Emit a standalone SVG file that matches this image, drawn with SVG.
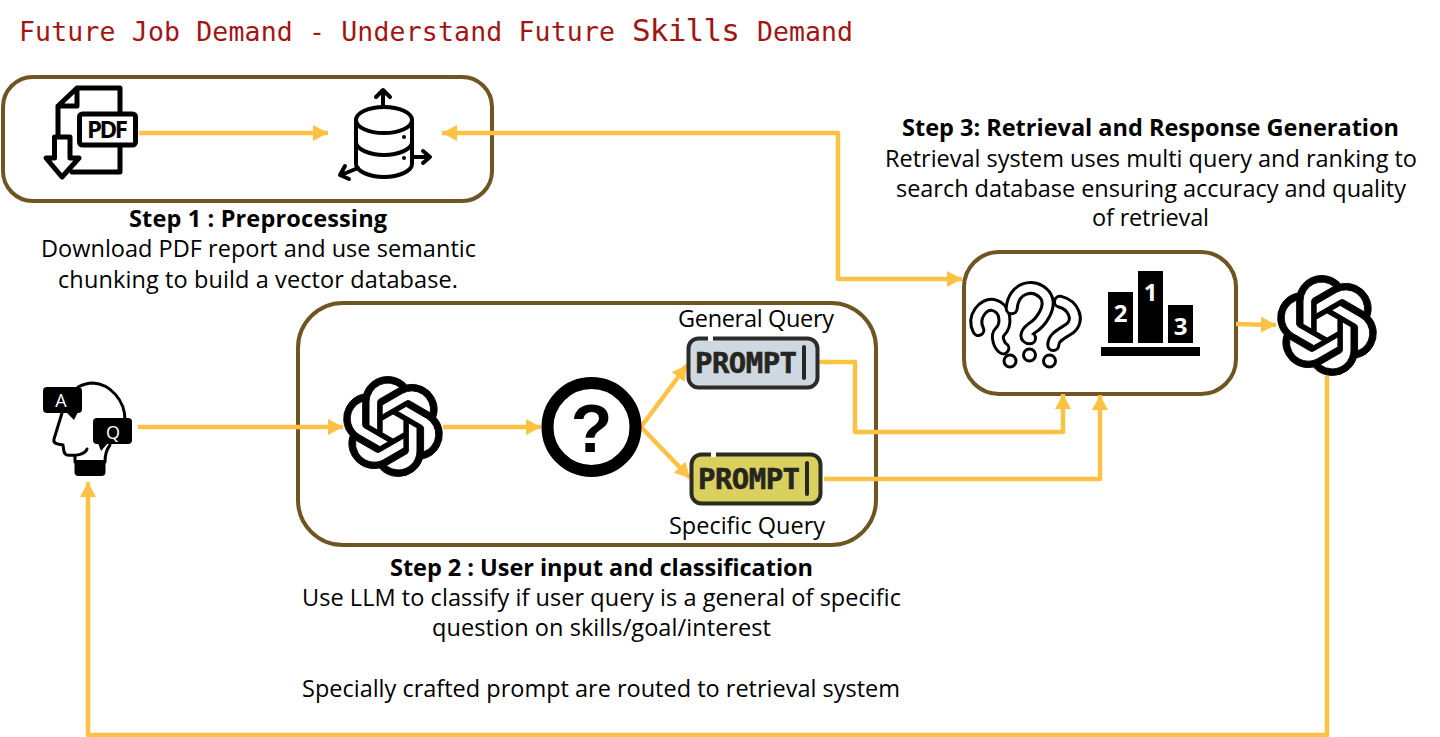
<svg xmlns="http://www.w3.org/2000/svg" width="1440" height="737" viewBox="0 0 1440 737">
<style>
.box{fill:#fff;stroke:#6e5522;stroke-width:4}
.c{fill:none;stroke:#fdc243;stroke-width:4.500;stroke-linejoin:round}
.t{font-family:"Open Sans","Noto Sans",sans-serif;font-size:23.500px;fill:#000;text-anchor:middle}
.b{font-weight:700}
.title{font-family:"DejaVu Sans Mono","Liberation Mono",monospace;font-size:26.500px;fill:#a31515}
.k{fill:none;stroke:#000;stroke-linecap:round;stroke-linejoin:round}
.pm{font-family:"DejaVu Sans Mono","Liberation Mono",monospace;font-weight:700;font-size:29px;fill:#262620;stroke:#262620;stroke-width:.6px}
.ic{font-family:"Open Sans","Noto Sans",sans-serif;font-weight:700;fill:#000;text-anchor:middle}
.w{font-family:"Open Sans","Noto Sans",sans-serif;fill:#fff;text-anchor:middle;font-size:18px}
</style>
<defs>
<marker id="a" markerUnits="userSpaceOnUse" markerWidth="16" markerHeight="16" refX="15" refY="8" orient="auto-start-reverse"><path d="M0 0L15 8L0 16Z" fill="#fdc243"/></marker>
<symbol id="logo" viewBox="0 0 24 24"><path fill="#000" stroke="#000" stroke-width=".22" fill-rule="evenodd" d="M22.2819 9.8211a5.9847 5.9847 0 0 0-.5157-4.9108 6.0462 6.0462 0 0 0-6.5098-2.9A6.0651 6.0651 0 0 0 4.9807 4.1818a5.9847 5.9847 0 0 0-3.9977 2.9 6.0462 6.0462 0 0 0 .7427 7.0966 5.98 5.98 0 0 0 .511 4.9107 6.051 6.051 0 0 0 6.5146 2.9001A5.9847 5.9847 0 0 0 13.2599 24a6.0557 6.0557 0 0 0 5.7718-4.2058 5.9894 5.9894 0 0 0 3.9977-2.9001 6.0557 6.0557 0 0 0-.7475-7.0729zm-9.022 12.6081a4.4755 4.4755 0 0 1-2.8764-1.0408l.1419-.0804 4.7783-2.7582a.7948.7948 0 0 0 .3927-.6813v-6.7369l2.02 1.1686a.071.071 0 0 1 .038.052v5.5826a4.504 4.504 0 0 1-4.4945 4.4944zm-9.6607-4.1254a4.4708 4.4708 0 0 1-.5346-3.0137l.142.0852 4.783 2.7582a.7712.7712 0 0 0 .7806 0l5.8428-3.3685v2.3324a.0804.0804 0 0 1-.0332.0615L9.74 19.9502a4.4992 4.4992 0 0 1-6.1408-1.6464zM2.3408 7.8956a4.485 4.485 0 0 1 2.3655-1.9728V11.6a.7664.7664 0 0 0 .3879.6765l5.8144 3.3543-2.0201 1.1685a.0757.0757 0 0 1-.071 0l-4.8303-2.7865A4.504 4.504 0 0 1 2.3408 7.872zm16.5963 3.8558L13.1038 8.364 15.1192 7.2a.0757.0757 0 0 1 .071 0l4.8303 2.7913a4.4944 4.4944 0 0 1-.6765 8.1042v-5.6772a.79.79 0 0 0-.407-.667zm2.0107-3.0231l-.142-.0852-4.7735-2.7818a.7759.7759 0 0 0-.7854 0L9.409 9.2297V6.8974a.0662.0662 0 0 1 .0284-.0615l4.8303-2.7866a4.4992 4.4992 0 0 1 6.6802 4.66zM8.3065 12.863l-2.02-1.1638a.0804.0804 0 0 1-.038-.0567V6.0742a4.4992 4.4992 0 0 1 7.3757-3.4537l-.142.0805L8.704 5.459a.7948.7948 0 0 0-.3927.6813zm1.0976-2.3654l2.602-1.4998 2.6069 1.4998v2.9994l-2.5974 1.4997-2.6067-1.4997Z"/></symbol>
</defs>
<rect width="1440" height="737" fill="#fff"/>
<text class="title" y="41"><tspan x="19" textLength="596">Future Job Demand - Understand Future</tspan><tspan x="632" font-size="31" textLength="108">Skills</tspan><tspan x="757" textLength="96">Demand</tspan></text>

<g id="step1-box"><rect class="box" x="3" y="77" width="489" height="124" rx="30"/></g>
<g id="step2-box"><rect class="box" x="298" y="303" width="578" height="242" rx="45"/></g>
<g id="step3-box"><rect class="box" x="964" y="252" width="272" height="142" rx="35"/></g>

<g id="connectors">
<path class="c" d="M139 133H328" marker-end="url(#a)"/>
<path class="c" d="M442 133H838V279H962" marker-start="url(#a)" marker-end="url(#a)"/>
<path class="c" d="M138 427H343" marker-end="url(#a)"/>
<path class="c" d="M443 427H541" marker-end="url(#a)"/>
<path class="c" d="M641 427L687 365" marker-end="url(#a)"/>
<path class="c" d="M641 427L690 478" marker-end="url(#a)"/>
<path class="c" d="M819 362H855V432H1063V394" marker-end="url(#a)"/>
<path class="c" d="M824 479H1100V395" marker-end="url(#a)"/>
<path class="c" d="M1236 324L1276 325" marker-end="url(#a)"/>
<path class="c" d="M1327 376V735H88V482" marker-end="url(#a)"/>
</g>

<g id="pdf-icon">
<path class="k" stroke-width="5" d="M58 135V106L77 88H120V115M120 146V172H72M58 106H77V88"/>
<path d="M54.500 137H70V158H79L62 177L46 158H54.500Z" fill="#fff" stroke="#000" stroke-width="5" stroke-linejoin="round"/>
<rect x="79.500" y="114" width="56" height="31" rx="3" fill="#fff" stroke="#000" stroke-width="5"/>
<text class="ic" x="107.500" y="138" font-size="24" textLength="41">PDF</text>
</g>

<g id="database-icon">
<ellipse cx="384" cy="120" rx="28" ry="13" fill="#fff" stroke="#000" stroke-width="4"/>
<path class="k" stroke-width="4" d="M356 120V164C356 171 369 177 384 177C399 177 412 171 412 164V120M356 142C356 149 369 155 384 155C399 155 412 149 412 142"/>
<circle cx="404" cy="137" r="2" fill="#000"/><circle cx="404" cy="158" r="2" fill="#000"/>
<path class="k" stroke-width="4" d="M383 106V91M376 97L383 90L390 97M412 157H429M423 151L430 157L423 163M358 168L341 175M345 166L340 175L349 179"/>
</g>

<g id="user-icon">
<path class="k" stroke-width="3" d="M78 387C84 384 88 383 93 383C110 384 125 400 125 420M62 413L54 439C53 443 56 444 63 445C64 450 63 454 67 455C75 456 85 455 87 449M75 456V462M110 445C106 450 105 455 105 462"/>
<rect x="43" y="387" width="39" height="26" rx="4" fill="#000"/><path d="M66 412L74 420L78 412Z" fill="#000"/>
<rect x="93" y="418" width="39" height="26" rx="4" fill="#000"/><path d="M98 443L101 451L108 443Z" fill="#000"/>
<path d="M74.500 460H105.500V472Q105.500 476 101.500 476H78.500Q74.500 476 74.500 472Z" fill="#000"/>
<text class="w" x="61" y="407">A</text><text class="w" x="113" y="439">Q</text>
</g>

<g id="llm-classifier"><use href="#logo" x="343" y="376" width="100" height="101"/></g>

<g id="question-icon">
<circle cx="591.500" cy="427" r="44" fill="#fff" stroke="#000" stroke-width="12"/>
<text x="591.500" y="452" font-family="Liberation Sans,sans-serif" font-weight="700" font-size="68" text-anchor="middle">?</text>
</g>

<g id="general-prompt">
<rect x="688.500" y="338.500" width="129" height="49" rx="10" fill="#cfd8e0" stroke="#2b2b2b" stroke-width="4"/>
<rect x="708" y="335" width="5" height="6" fill="#fff"/>
<text class="pm" x="695" y="373" textLength="102">PROMPT</text>
<rect x="802" y="345" width="4" height="35" rx="2" fill="#262620"/>
<text class="t" x="756" y="327" textLength="156">General Query</text>
</g>

<g id="specific-prompt">
<rect x="691.500" y="454.500" width="129" height="49" rx="10" fill="#d9d060" stroke="#2b2b22" stroke-width="4"/>
<rect x="711" y="451" width="5" height="6" fill="#fff"/>
<text class="pm" x="698" y="489" textLength="102">PROMPT</text>
<rect x="805" y="461" width="4" height="35" rx="2" fill="#262620"/>
<text class="t" x="747" y="534" textLength="156">Specific Query</text>
</g>

<g id="multi-query-icon">
<g fill="none" stroke-linecap="round" stroke-linejoin="round">
<path stroke="#000" stroke-width="14" d="M1060 301.700C1073.300 305 1080 320 1070 328.300C1063 333.300 1053.300 336.700 1053.300 345"/>
<path stroke="#fff" stroke-width="8" d="M1060 301.700C1073.300 305 1080 320 1070 328.300C1063 333.300 1053.300 336.700 1053.300 345"/>
<path stroke="#000" stroke-width="14" d="M978.300 330C971.700 316.700 983.300 303.300 993.300 305C1006.700 308.300 1006.700 325 1000 331.700C995 336.700 1000 346.700 1003.300 348.300"/>
<path stroke="#fff" stroke-width="8" d="M978.300 330C971.700 316.700 983.300 303.300 993.300 305C1006.700 308.300 1006.700 325 1000 331.700C995 336.700 1000 346.700 1003.300 348.300"/>
<path stroke="#000" stroke-width="14" d="M1011.700 308.300C1013.300 288 1033.300 281.700 1045 295C1053.300 306.700 1040 323.300 1031.700 328.300C1025 333.300 1025 338.300 1030 338.300"/>
<path stroke="#fff" stroke-width="8" d="M1011.700 308.300C1013.300 288 1033.300 281.700 1045 295C1053.300 306.700 1040 323.300 1031.700 328.300C1025 333.300 1025 338.300 1030 338.300"/>
</g>
<g fill="#fff" stroke="#000" stroke-width="3"><circle cx="1010" cy="361" r="6"/><circle cx="1029.500" cy="355" r="6"/><circle cx="1049.500" cy="361" r="6"/></g>
</g>

<g id="ranking-icon">
<rect x="1108" y="292" width="25" height="51" fill="#000"/>
<rect x="1138" y="271" width="25" height="72" fill="#000"/>
<rect x="1168" y="305" width="25" height="38" fill="#000"/>
<rect x="1101" y="347" width="99" height="9" fill="#000"/>
<text class="ic" x="1150.500" y="301" font-size="24" style="fill:#fff">1</text>
<text class="ic" x="1120.500" y="322" font-size="24" style="fill:#fff">2</text>
<text class="ic" x="1180.500" y="335" font-size="24" style="fill:#fff">3</text>
</g>

<g id="response-llm"><use href="#logo" x="1277" y="275" width="100" height="101"/></g>

<g id="step1-label">
<text class="t b" x="258" y="227" textLength="258">Step 1 : Preprocessing</text>
<text class="t" x="258.500" y="257" textLength="435">Download PDF report and use semantic</text>
<text class="t" x="258" y="288" textLength="400">chunking to build a vector database.</text>
</g>
<g id="step2-label">
<text class="t b" x="601.500" y="576" textLength="423">Step 2 : User input and classification</text>
<text class="t" x="601.500" y="606" textLength="599">Use LLM to classify if user query is a general of specific</text>
<text class="t" x="601.500" y="636" textLength="339">question on skills/goal/interest</text>
<text class="t" x="601" y="697" textLength="598">Specially crafted prompt are routed to retrieval system</text>
</g>
<g id="step3-label">
<text class="t b" x="1150.500" y="136" textLength="497">Step 3: Retrieval and Response Generation</text>
<text class="t" x="1151" y="167" textLength="532">Retrieval system uses multi query and ranking to</text>
<text class="t" x="1151" y="197" textLength="510">search database ensuring accuracy and quality</text>
<text class="t" x="1150.500" y="226" textLength="117">of retrieval</text>
</g>
</svg>
